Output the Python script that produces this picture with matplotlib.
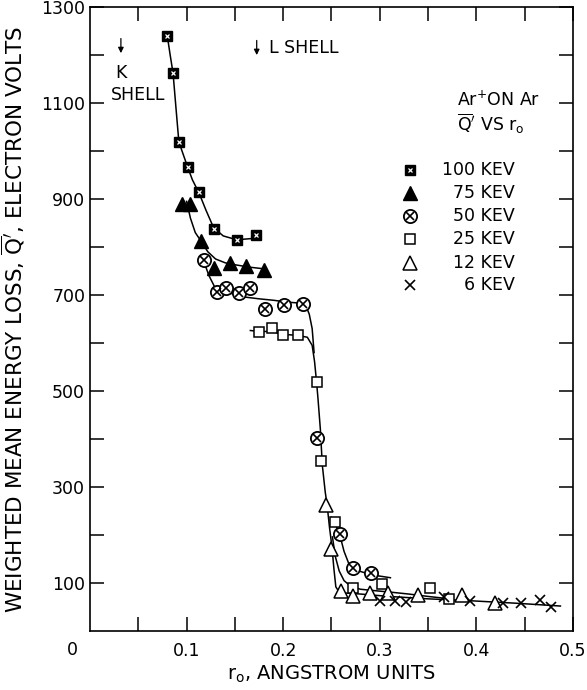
import matplotlib
matplotlib.use("Agg")
import matplotlib.pyplot as plt

plt.rcParams['font.family'] = 'DejaVu Sans'
plt.rcParams['mathtext.fontset'] = 'dejavusans'

# measured points: r_o (angstrom) vs weighted mean energy loss (eV)
r_100 = [0.080, 0.086, 0.092, 0.101, 0.113, 0.128, 0.152, 0.172]
q_100 = [1240, 1162, 1019, 967, 915, 837, 815, 826]

r_75 = [0.095, 0.104, 0.115, 0.128, 0.145, 0.161, 0.180]
q_75 = [889, 889, 813, 756, 767, 760, 753]

r_50 = [0.118, 0.131, 0.141, 0.154, 0.166, 0.181, 0.201, 0.221, 0.235, 0.259, 0.272, 0.291]
q_50 = [772, 706, 714, 704, 714, 671, 680, 682, 402, 203, 132, 120]

r_25 = [0.175, 0.188, 0.200, 0.215, 0.235, 0.239, 0.254, 0.272, 0.302, 0.352, 0.372]
q_25 = [623, 632, 617, 616, 518, 355, 227, 89, 97, 89, 67]

r_12 = [0.244, 0.250, 0.260, 0.272, 0.290, 0.309, 0.340, 0.385, 0.419]
q_12 = [262, 171, 83, 73, 79, 79, 75, 75, 59]

r_6 = [0.300, 0.316, 0.327, 0.366, 0.393, 0.428, 0.446, 0.466, 0.477]
q_6 = [63, 63, 60, 70, 63, 59, 59, 65, 49]

# hand-drawn guide curves
curve_100_r = [0.080, 0.083, 0.086, 0.089, 0.092, 0.097, 0.101, 0.106, 0.113, 0.120, 0.128, 0.138, 0.152, 0.170]
curve_100_q = [1240, 1200, 1162, 1090, 1019, 990, 967, 940, 912, 877, 840, 823, 815, 818]

curve_75_r = [0.100, 0.104, 0.109, 0.115, 0.122, 0.130, 0.140, 0.150, 0.165, 0.178]
curve_75_q = [895, 860, 830, 812, 790, 775, 767, 763, 758, 755]

curve_50_r = [0.117, 0.120, 0.123, 0.127, 0.130, 0.136, 0.142, 0.150, 0.159, 0.175, 0.190, 0.205,
              0.218, 0.224, 0.227, 0.230, 0.232]
curve_50_q = [775, 758, 741, 725, 713, 708, 706, 701, 696, 692, 689, 685, 683, 675, 660, 630, 580]

curve_main_r = [0.166, 0.175, 0.188, 0.200, 0.214, 0.225, 0.230, 0.2325, 0.2345, 0.236, 0.2385, 0.2405,
                0.2435, 0.2455, 0.248, 0.2505, 0.2525, 0.2545, 0.258, 0.265, 0.28, 0.31, 0.35, 0.394,
                0.44, 0.487]
curve_main_q = [626, 624, 624, 618, 616, 612, 595, 561, 520, 485, 420, 346, 290, 262, 215, 175, 130, 92,
                81, 79, 77, 72, 67, 63, 58, 52]

curve_50_low_r = [0.250, 0.255, 0.259, 0.263, 0.268, 0.275, 0.285, 0.298, 0.311]
curve_50_low_q = [237, 219, 197, 166, 140, 127, 121, 115, 111]

curve_25_low_r = [0.251, 0.254, 0.258, 0.263, 0.270, 0.280, 0.295, 0.311, 0.330, 0.350, 0.368]
curve_25_low_q = [196, 155, 125, 105, 93, 87, 84, 81, 77, 72, 68]

energies = ['100 KEV', '75 KEV', '50 KEV', '25 KEV', '12 KEV', '6 KEV']

fig = plt.figure(figsize=(5.87, 6.90), dpi=100)
ax = fig.add_axes([0.1533, 0.0855, 0.8228, 0.9044])

# curves
for cr, cq in [(curve_100_r, curve_100_q), (curve_75_r, curve_75_q), (curve_50_r, curve_50_q),
               (curve_main_r, curve_main_q), (curve_50_low_r, curve_50_low_q),
               (curve_25_low_r, curve_25_low_q)]:
    ax.plot(cr, cq, color='black', lw=1.1, zorder=1)


def draw_marker(kind, x, y, **kw):
    if kind == '100':
        ax.plot(x, y, 's', ms=6.5, mfc='black', mec='black', ls='none', zorder=3, **kw)
        ax.plot(x, y, 'x', ms=3.2, mew=0.9, color='white', ls='none', zorder=4, **kw)
    elif kind == '75':
        ax.plot(x, y, '^', ms=10, mfc='black', mec='black', ls='none', zorder=3, **kw)
    elif kind == '50':
        ax.plot(x, y, 'o', ms=9.5, mfc='white', mec='black', mew=1.3, ls='none', zorder=3, **kw)
        ax.plot(x, y, 'x', ms=5.5, mew=1.2, color='black', ls='none', zorder=4, **kw)
    elif kind == '25':
        ax.plot(x, y, 's', ms=6.5, mfc='white', mec='black', mew=1.1, ls='none', zorder=3, **kw)
    elif kind == '12':
        ax.plot(x, y, '^', ms=10.5, mfc='white', mec='black', mew=1.1, ls='none', zorder=3, **kw)
    elif kind == '6':
        ax.plot(x, y, 'x', ms=7, mew=1.2, color='black', ls='none', zorder=3, **kw)


kinds = ['100', '75', '50', '25', '12', '6']
series = [(r_100, q_100), (r_75, q_75), (r_50, q_50), (r_25, q_25), (r_12, q_12), (r_6, q_6)]
for k, (rr, qq) in zip(kinds, series):
    draw_marker(k, rr, qq)

# legend block
leg_y = [0.739, 0.702, 0.665, 0.628, 0.590, 0.554]
for k, lab, yy in zip(kinds, energies, leg_y):
    draw_marker(k, [0.6625], [yy], transform=ax.transAxes, clip_on=False)
    ax.text(0.88, yy, lab, transform=ax.transAxes, ha='right', va='center', fontsize=12.5)
ax.text(0.76, 0.851, r'Ar$^{+}$ON Ar', transform=ax.transAxes, ha='left', va='center', fontsize=12.5)
ax.text(0.76, 0.8125, r"$\overline{\mathrm{Q}}'$ VS r$_\mathrm{o}$", transform=ax.transAxes,
        ha='left', va='center', fontsize=12.5)

# shell markers
ax.annotate('', xy=(0.032, 1198), xytext=(0.032, 1240),
            arrowprops=dict(arrowstyle='-|>', color='black', lw=0.9, mutation_scale=8))
ax.text(0.032, 1162, 'K', ha='center', va='center', fontsize=12.5)
ax.text(0.0497, 1117, 'SHELL', ha='center', va='center', fontsize=12.5)
ax.annotate('', xy=(0.1726, 1194), xytext=(0.1726, 1236),
            arrowprops=dict(arrowstyle='-|>', color='black', lw=0.9, mutation_scale=8))
ax.text(0.1853, 1215, 'L SHELL', ha='left', va='center', fontsize=12.5)

# axes
ax.set_xlim(0, 0.5)
ax.set_ylim(0, 1300)
ax.set_xticks([0.1, 0.2, 0.3, 0.4, 0.5])
ax.set_xticklabels(['0.1', '0.2', '0.3', '0.4', '0.5'])
ax.set_xticks([0.05, 0.15, 0.25, 0.35, 0.45], minor=True)
ax.set_yticks(list(range(100, 1400, 200)))
ax.set_yticks(list(range(200, 1300, 200)), minor=True)
ax.tick_params(which='both', direction='in', top=True, right=True, length=10, width=1.1,
               labelsize=12.5)
ax.tick_params(axis='x', pad=8)
ax.tick_params(axis='y', pad=3.5)
for s in ax.spines.values():
    s.set_linewidth(1.2)

ax.text(-0.018, -0.0156, '0', transform=ax.get_xaxis_transform(), ha='center', va='top', fontsize=12.5)

ax.set_ylabel(r"WEIGHTED MEAN ENERGY LOSS, $\overline{\mathrm{Q}}'$, ELECTRON VOLTS", fontsize=15.5)
ax.yaxis.set_label_coords(-0.13, 0.5)
ax.set_xlabel(r"r$_\mathrm{o}$, ANGSTROM UNITS", fontsize=14)
ax.xaxis.set_label_coords(0.5, -0.052)

fig.savefig('out.png', dpi=100)
